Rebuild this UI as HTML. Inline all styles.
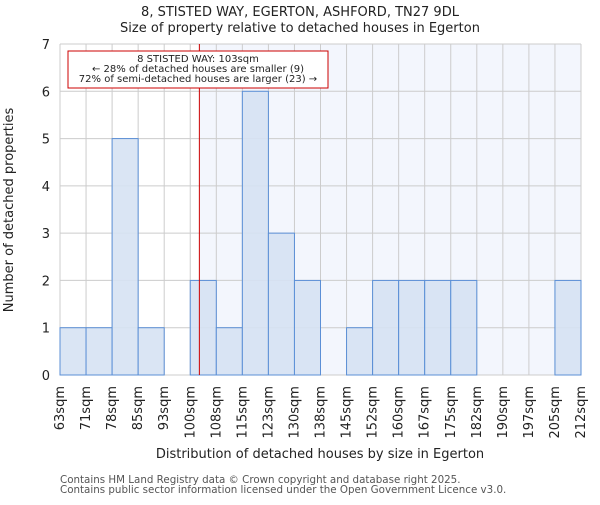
<!DOCTYPE html>
<html><head><meta charset="utf-8"><style>body{margin:0;background:#fff}text{font-family:"DejaVu Sans","Liberation Sans",sans-serif}</style></head>
<body>
<svg width="600" height="500" xmlns="http://www.w3.org/2000/svg">
<g id="chart"></g>
</svg>
<script>
const categories=["63sqm","71sqm","78sqm","85sqm","93sqm","100sqm","108sqm","115sqm","123sqm","130sqm","138sqm","145sqm","152sqm","160sqm","167sqm","175sqm","182sqm","190sqm","197sqm","205sqm","212sqm"];
const counts=[1,1,5,1,0,2,1,6,3,2,0,1,2,2,2,2,0,0,0,2];
const yTicks=[0,1,2,3,4,5,6,7];
const markerBin=5.35;
const NS="http://www.w3.org/2000/svg";
const g=document.getElementById('chart');
const X0=60,X1=581,Y0=375,Y1=44,N=counts.length;
const bw=(X1-X0)/N;
const x=i=>X0+i*bw;
const y=v=>Y0-(v/7)*(Y0-Y1);
function el(t,a,txt){const e=document.createElementNS(NS,t);for(const k in a)e.setAttribute(k,a[k]);if(txt!==undefined)e.textContent=txt;g.appendChild(e);return e;}
const mx=x(markerBin);
let e=el('rect',{x:mx,y:Y1,width:X1-mx,height:Y0-Y1,fill:'#f3f6fd'});

for(let i=0;i<=N;i++){e=el('line',{x1:x(i),x2:x(i),y1:Y1,y2:Y0,stroke:'#cccccc','stroke-width':1});}
yTicks.forEach(v=>{e=el('line',{x1:X0,x2:X1,y1:y(v),y2:y(v),stroke:'#cccccc','stroke-width':1});
e=el('text',{x:X0-10,y:y(v)+5,'text-anchor':'end','font-size':13,fill:'#222'},String(v));});
counts.forEach((c,i)=>{if(c>0){e=el('rect',{x:x(i),y:y(c),width:bw,height:Y0-y(c),fill:'#d6e2f3','fill-opacity':0.9,stroke:'#5b8fd6','stroke-width':1});}});
categories.forEach((c,i)=>{const tx=x(i)+4,ty=386;e=el('text',{x:tx,y:ty,transform:`rotate(-90 ${tx} ${ty})`,'text-anchor':'end','font-size':13,fill:'#222'},c);});
e=el('line',{x1:mx,x2:mx,y1:Y1,y2:Y0,stroke:'#cc0000','stroke-width':1});
e=el('rect',{x:68,y:51,width:260,height:37,fill:'#fff',stroke:'#cc0000','stroke-width':1});
[["8 STISTED WAY: 103sqm",62],["← 28% of detached houses are smaller (9)",72],["72% of semi-detached houses are larger (23) →",82]].forEach(([t,yy])=>{e=el('text',{x:198,y:yy,'text-anchor':'middle','font-size':10,fill:'#222'},t);});
e=el('text',{x:300,y:16,'text-anchor':'middle','font-size':13,fill:'#222'},'8, STISTED WAY, EGERTON, ASHFORD, TN27 9DL');
e=el('text',{x:300,y:32,'text-anchor':'middle','font-size':13,fill:'#222'},'Size of property relative to detached houses in Egerton');
e=el('text',{x:320,y:458,'text-anchor':'middle','font-size':13,fill:'#222'},'Distribution of detached houses by size in Egerton');
e=el('text',{x:13,y:210,transform:'rotate(-90 13 210)','text-anchor':'middle','font-size':13,fill:'#222'},'Number of detached properties');
e=el('text',{x:60,y:483,'font-size':10.3,fill:'#555'},'Contains HM Land Registry data © Crown copyright and database right 2025.');
e=el('text',{x:60,y:493,'font-size':10.3,fill:'#555'},'Contains public sector information licensed under the Open Government Licence v3.0.');
</script>
</body></html>
